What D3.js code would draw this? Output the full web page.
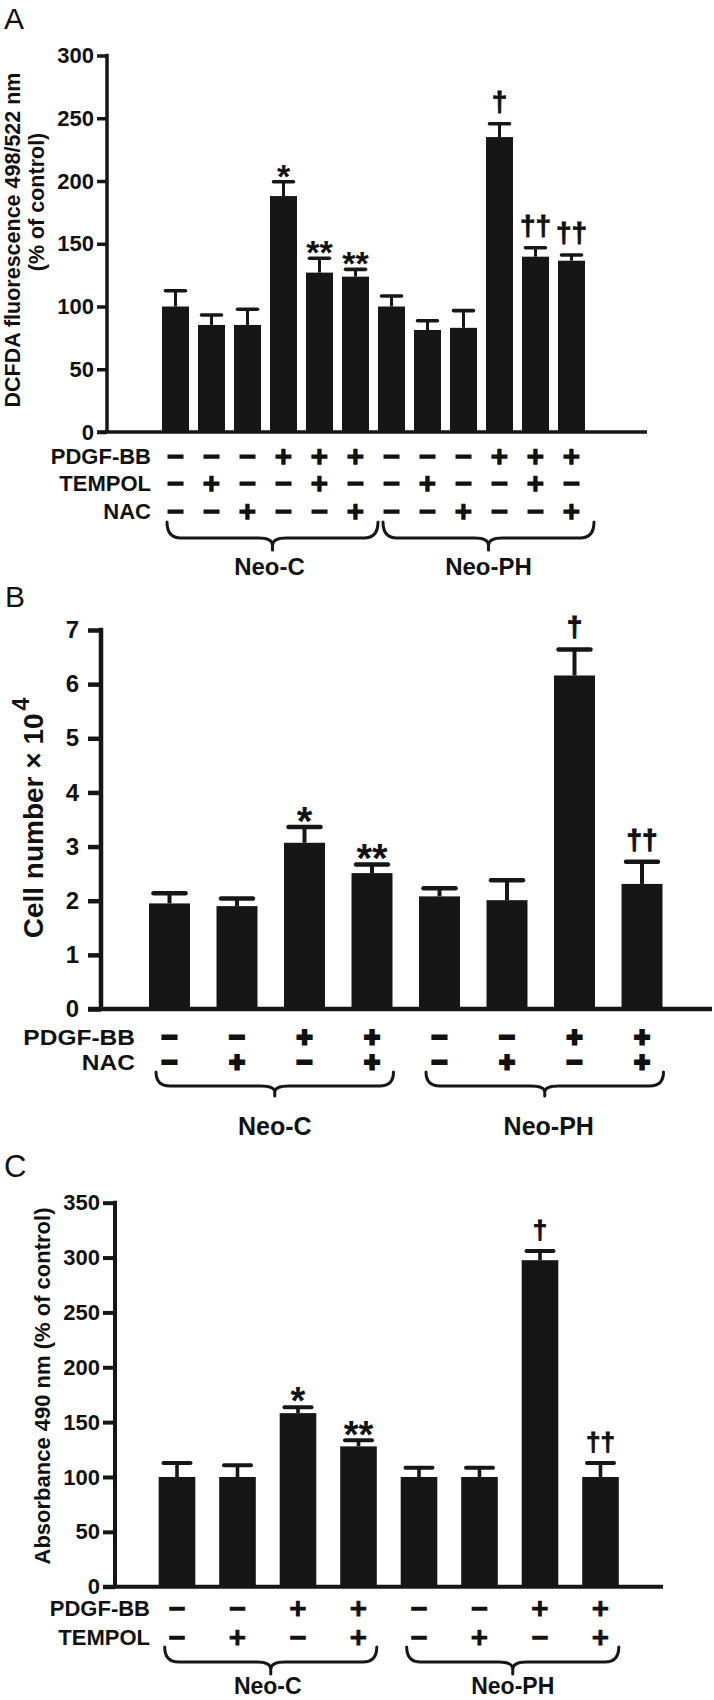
<!DOCTYPE html>
<html><head><meta charset="utf-8">
<script src="https://cdn.jsdelivr.net/npm/d3@7"></script>
<style>
body{margin:0;background:#fff}
svg{display:block}
text{font-family:"Liberation Sans",Arial,Helvetica,sans-serif;fill:#111}
</style>
</head><body>
<svg id="chart" width="714" height="1700"></svg>
<script>
// ---------------- DATA ----------------
const groups = ["Neo-C", "Neo-PH"];

// Panel A: DCFDA fluorescence (% of control)
const valuesA = [100, 85.3, 85.3, 188, 127, 123.8, 100, 81.3, 83, 235, 139.7, 136.5];
const errorsA = [12.6, 7.9, 12.5, 11.4, 11.4, 5.8, 8.4, 7.4, 13.7, 10.6, 7.1, 4.5];
const marksA  = ["", "", "", "*", "**", "**", "", "", "", "\u2020", "\u2020\u2020", "\u2020\u2020"];
const ticksA  = [0, 50, 100, 150, 200, 250, 300];
const rowNamesA = ["PDGF-BB", "TEMPOL", "NAC"];
const pdgfA   = ["-","-","-","+","+","+","-","-","-","+","+","+"];
const tempolA = ["-","+","-","-","+","-","-","+","-","-","+","-"];
const nacA    = ["-","-","+","-","-","+","-","-","+","-","-","+"];

// Panel B: Cell number x 10^4
const valuesB = [1.95, 1.9, 3.07, 2.51, 2.08, 2.01, 6.16, 2.31];
const errorsB = [0.19, 0.14, 0.29, 0.16, 0.15, 0.37, 0.48, 0.41];
const marksB  = ["", "", "*", "**", "", "", "\u2020", "\u2020\u2020"];
const ticksB  = [0, 1, 2, 3, 4, 5, 6, 7];
const rowNamesB = ["PDGF-BB", "NAC"];
const pdgfB   = ["-","-","+","+","-","-","+","+"];
const nacB    = ["-","+","-","+","-","+","-","+"];

// Panel C: Absorbance 490 nm (% of control)
const valuesC = [100, 100, 158.2, 127.9, 100, 100, 297.6, 100];
const errorsC = [12.7, 10.6, 5.4, 5.5, 8.5, 8.5, 8.4, 12.7];
const marksC  = ["", "", "*", "**", "", "", "\u2020", "\u2020\u2020"];
const ticksC  = [0, 50, 100, 150, 200, 250, 300, 350];
const rowNamesC = ["PDGF-BB", "TEMPOL"];
const pdgfC   = ["-","-","+","+","-","-","+","+"];
const tempolC = ["-","+","-","+","-","+","-","+"];

// ---------------- DRAW ----------------
const svg = d3.select("#chart");
const INK = "#161616";
const SIGN_FONT = "'DejaVu Sans', 'Liberation Sans', sans-serif";

function bracePath(xl, xr, yTop, yMid, yTip, r) {
  const xc = (xl + xr) / 2;
  const yk = yMid + (yTip - yMid) * 0.6;
  const p = d3.path();
  p.moveTo(xl, yTop);
  p.quadraticCurveTo(xl, yMid, xl + r, yMid);
  p.lineTo(xc - r, yMid);
  p.quadraticCurveTo(xc, yMid, xc, yk);
  p.lineTo(xc, yTip);
  p.moveTo(xc, yk);
  p.quadraticCurveTo(xc, yMid, xc + r, yMid);
  p.lineTo(xr - r, yMid);
  p.quadraticCurveTo(xr, yMid, xr, yTop);
  return p.toString();
}

function drawPanel(o) {
  const g = svg.append("g");
  const n = o.values.length;
  const ids = d3.range(n);
  const x = d3.scaleBand().domain(ids).range([o.x0, o.x1])
    .paddingInner(o.pad).paddingOuter(o.pad / 2);
  const bw = x.bandwidth();
  const cx = i => x(i) + bw / 2;
  const y = d3.scaleLinear().domain([0, o.ymax]).range([o.yBase, o.yTop]);

  // panel letter
  g.append("text").attr("x", o.letterX).attr("y", o.letterY)
    .attr("font-size", o.letterFs).text(o.letter);

  // y axis
  const ax = g.append("g").attr("transform", `translate(${o.axisX},0)`)
    .call(d3.axisLeft(y).tickValues(o.ticks).tickSize(o.tickLen)
      .tickPadding(o.tickPad).tickFormat(d3.format("d")));
  ax.select(".domain").remove();
  ax.selectAll(".tick line").attr("stroke", INK).attr("stroke-width", o.sw);
  ax.selectAll(".tick text").attr("font-family", null).attr("font-size", o.tickFs)
    .attr("font-weight", "bold").attr("fill", "#111");
  g.append("line").attr("x1", o.axisX).attr("x2", o.axisX)
    .attr("y1", y(o.ymax) - o.sw / 2).attr("y2", y(0))
    .attr("stroke", INK).attr("stroke-width", o.sw);
  // baseline
  g.append("line").attr("x1", o.axisX - o.tickLen).attr("x2", o.baseEnd)
    .attr("y1", y(0)).attr("y2", y(0))
    .attr("stroke", INK).attr("stroke-width", o.sw);

  // y label
  o.ylab(g);

  // bars
  g.selectAll(null).data(o.values).join("rect")
    .attr("x", (d, i) => x(i)).attr("y", d => y(d))
    .attr("width", bw).attr("height", d => y(0) - y(d))
    .attr("fill", INK);

  // error bars
  g.selectAll(null).data(o.values).join("line")
    .attr("x1", (d, i) => cx(i)).attr("x2", (d, i) => cx(i))
    .attr("y1", d => y(d)).attr("y2", (d, i) => y(d + o.errors[i]))
    .attr("stroke", INK).attr("stroke-width", o.ew);
  g.selectAll(null).data(o.values).join("line")
    .attr("x1", (d, i) => cx(i) - o.capW / 2).attr("x2", (d, i) => cx(i) + o.capW / 2)
    .attr("y1", (d, i) => y(d + o.errors[i])).attr("y2", (d, i) => y(d + o.errors[i]))
    .attr("stroke", INK).attr("stroke-width", o.capSw).attr("stroke-linecap", "round");

  // significance marks
  o.marks.forEach((m, i) => {
    if (!m) return;
    const capY = y(o.values[i] + o.errors[i]) - o.capSw / 2;
    const isStar = m[0] === "*";
    const fs = isStar ? o.starFs : o.dagFs;
    const yy = isStar ? capY - o.markGap + 0.40 * fs : capY - o.markGap - 0.17 * fs;
    g.append("text").attr("x", cx(i)).attr("y", yy)
      .attr("text-anchor", "middle").attr("font-weight", "bold")
      .attr("font-size", fs)
      .attr("stroke", isStar ? "none" : "#111").attr("stroke-width", isStar ? 0 : o.dagStroke)
      .text(m);
  });

  // rows of +/- signs
  o.rows.forEach((row, r) => {
    const cy = o.rowY[r];
    const lab = g.append("text").attr("x", o.rowLabelX).attr("y", cy + 0.36 * o.rowFs)
      .attr("text-anchor", "end").attr("font-weight", "bold")
      .attr("font-size", o.rowFs).text(row.name);
    if (o.rowStretch && o.rowStretch !== 1) {
      const L = lab.node().getComputedTextLength();
      lab.attr("textLength", L * o.rowStretch).attr("lengthAdjust", "spacingAndGlyphs");
    }
    g.selectAll(null).data(row.signs).join("text")
      .attr("x", (d, i) => cx(i))
      .attr("y", cy + 0.33 * o.signFs)
      .attr("text-anchor", "middle").attr("font-weight", "bold")
      .style("font-family", SIGN_FONT)
      .attr("font-size", o.signFs)
      .attr("stroke", "#111").attr("stroke-width", o.signStroke)
      .text(d => d === "+" ? "+" : "\u2212");
  });

  // braces and group labels
  const per = n / groups.length;
  groups.forEach((name, k) => {
    const xl = x(k * per) + o.braceL;
    const xr = x(k * per + per - 1) + bw + o.braceR;
    g.append("path").attr("d", bracePath(xl, xr, o.braceTop, o.braceMid, o.braceTip, 14))
      .attr("fill", "none").attr("stroke", INK).attr("stroke-width", o.braceSw)
      .attr("stroke-linecap", "round").attr("stroke-linejoin", "round");
    g.append("text").attr("x", (xl + xr) / 2 + o.groupDx[k]).attr("y", o.groupY)
      .attr("text-anchor", "middle").attr("font-weight", "bold")
      .attr("font-size", o.groupFs).text(name);
  });
}

// ---- Panel A ----
drawPanel({
  letter: "A", letterX: 4, letterY: 29, letterFs: 30,
  values: valuesA, errors: errorsA, marks: marksA, ticks: ticksA, ymax: 300,
  x0: 157.5, x1: 589.5, pad: 0.25,
  yBase: 432, yTop: 55.5, axisX: 107, baseEnd: 647,
  tickLen: 10, tickPad: 3, tickFs: 22, sw: 3.5,
  ew: 3, capW: 20, capSw: 3.6,
  starFs: 34, dagFs: 28, dagStroke: 0.9, markGap: 6,
  rows: [{name: rowNamesA[0], signs: pdgfA}, {name: rowNamesA[1], signs: tempolA}, {name: rowNamesA[2], signs: nacA}],
  rowY: [456, 483.5, 511], rowLabelX: 151, rowFs: 22, rowStretch: 1,
  signFs: 23, signStroke: 1.6,
  braceL: 5, braceR: 9, braceTop: 522, braceMid: 538, braceTip: 550, braceSw: 3,
  groupY: 575, groupFs: 24, groupDx: [-3, 0],
  ylab: g => {
    g.append("text").attr("transform", "translate(19.6,240) rotate(-90)")
      .attr("text-anchor", "middle").attr("font-weight", "bold").attr("font-size", 21.5)
      .text("DCFDA fluorescence 498/522 nm");
    g.append("text").attr("transform", "translate(44,202) rotate(-90)")
      .attr("text-anchor", "middle").attr("font-weight", "bold").attr("font-size", 21.5)
      .text("(% of control)");
  }
});

// ---- Panel B ----
drawPanel({
  letter: "B", letterX: 5, letterY: 607, letterFs: 30,
  values: valuesB, errors: errorsB, marks: marksB, ticks: ticksB, ymax: 7,
  x0: 135.75, x1: 675.75, pad: 0.393,
  yBase: 1009, yTop: 630, axisX: 101, baseEnd: 712,
  tickLen: 13, tickPad: 9, tickFs: 24, sw: 4.5,
  ew: 4, capW: 32, capSw: 4.5,
  starFs: 40, dagFs: 28, dagStroke: 1.1, markGap: 6,
  rows: [{name: rowNamesB[0], signs: pdgfB}, {name: rowNamesB[1], signs: nacB}],
  rowY: [1037, 1062], rowLabelX: 135, rowFs: 21.5, rowStretch: 1.14,
  signFs: 21, signStroke: 3,
  braceL: 7, braceR: 1, braceTop: 1072, braceMid: 1086, braceTip: 1096, braceSw: 3,
  groupY: 1135, groupFs: 25, groupDx: [0, 4],
  ylab: g => {
    const t = g.append("text").attr("transform", "translate(43,818) rotate(-90)")
      .attr("text-anchor", "middle").attr("font-size", 28).attr("font-weight", "bold");
    t.append("tspan").text("Cell number \u00d7 10");
    t.append("tspan").attr("dy", -14).attr("dx", 3).attr("font-size", 23).text("4");
  }
});

// ---- Panel C ----
drawPanel({
  letter: "C", letterX: 4, letterY: 1177, letterFs: 31,
  values: valuesC, errors: errorsC, marks: marksC, ticks: ticksC, ymax: 350,
  x0: 146.75, x1: 630.75, pad: 0.395,
  yBase: 1586.7, yTop: 1202.7, axisX: 115, baseEnd: 663,
  tickLen: 12, tickPad: 3, tickFs: 22, sw: 4,
  ew: 3.6, capW: 27, capSw: 4,
  starFs: 38, dagFs: 26, dagStroke: 0.9, markGap: 6,
  rows: [{name: rowNamesC[0], signs: pdgfC}, {name: rowNamesC[1], signs: tempolC}],
  rowY: [1608, 1637], rowLabelX: 150, rowFs: 22, rowStretch: 1,
  signFs: 23, signStroke: 1.2,
  braceL: 6, braceR: 0, braceTop: 1647, braceMid: 1662, braceTip: 1674, braceSw: 3,
  groupY: 1694, groupFs: 23, groupDx: [-3, 0],
  ylab: g => {
    g.append("text").attr("transform", "translate(50,1386) rotate(-90)")
      .attr("text-anchor", "middle").attr("font-weight", "bold").attr("font-size", 22)
      .text("Absorbance 490 nm (% of control)");
  }
});
</script>
</body></html>
